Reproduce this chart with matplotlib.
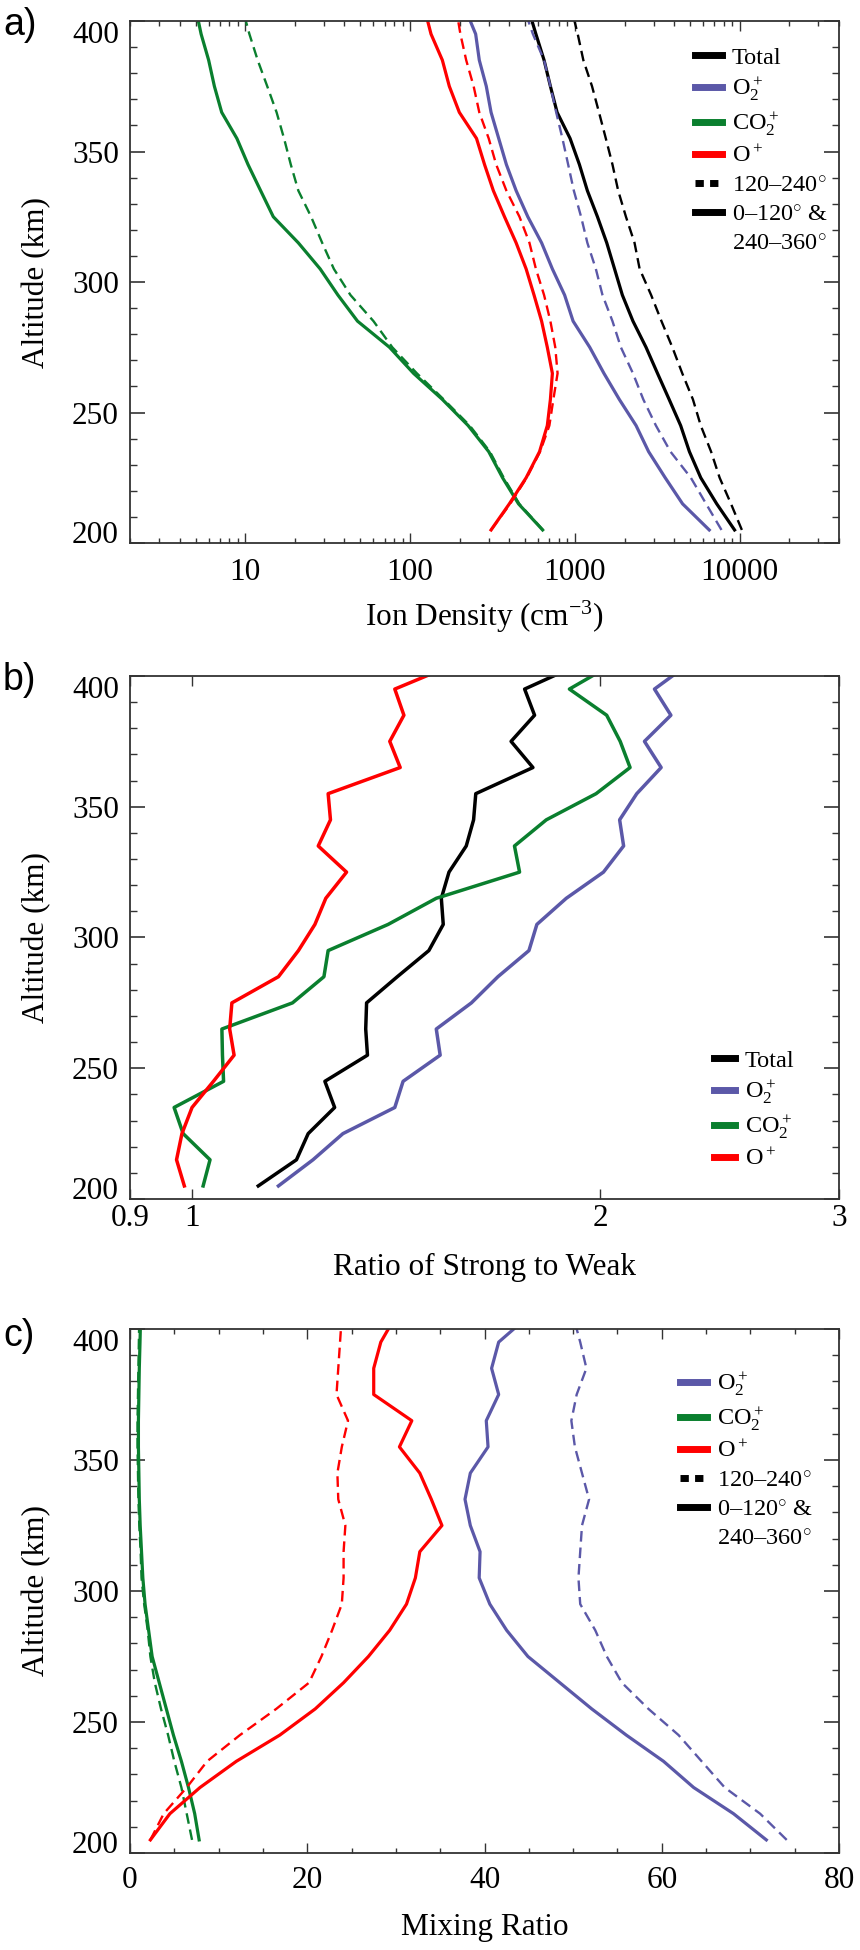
import numpy as np
import matplotlib.pyplot as plt
from matplotlib.lines import Line2D
from matplotlib.ticker import MultipleLocator, NullLocator, NullFormatter, FuncFormatter, FixedLocator, FixedFormatter

plt.rcParams['font.family'] = ['Liberation Serif', 'DejaVu Serif']
plt.rcParams['mathtext.fontset'] = 'custom'
plt.rcParams['mathtext.rm'] = 'Liberation Serif'
plt.rcParams['mathtext.it'] = 'Liberation Serif:italic'
plt.rcParams['mathtext.bf'] = 'Liberation Serif:bold'

# altitude grid (km), top point sits just above the plotted range and gets clipped
alt = np.arange(205, 406, 10)

# a) ion density (cm^-3), strong (0-120 & 240-360) and weak (120-240) sectors
tot_s = [9300, 7250, 5800, 4950, 4380, 3730, 3170, 2700, 2250, 1940, 1740,
         1560, 1370, 1190, 1065, 935, 780, 710, 650, 580, 520]
tot_w = [10300, 8850, 7550, 6700, 5800, 5200, 4480, 3900, 3350, 2900, 2470,
         2300, 2040, 1830, 1690, 1540, 1400, 1270, 1125, 1040, 950]
o2_s = [6530, 4500, 3530, 2800, 2350, 1860, 1500, 1230, 975, 866, 730,
        628, 518, 440, 384, 345, 310, 290, 263, 250, 215]
o2_w = [7750, 6250, 5050, 3800, 3100, 2600, 2250, 1900, 1690, 1470, 1340,
        1190, 1090, 985, 910, 840, 770, 710, 650, 556, 490]
co2_s = [637, 455, 364, 300, 225, 157, 105, 75, 48, 36.5, 28.5,
         21, 14.8, 12.4, 10.4, 8.9, 7.2, 6.5, 6.0, 5.4, 5.0]
co2_w = [640, 460, 370, 305, 230, 160, 110, 78, 60, 43.5, 34.5,
         29.3, 25.1, 21.0, 18.9, 17.2, 15.5, 13.6, 11.9, 10.6, 9.6]
o_s = [310, 400, 506, 610, 680, 710, 730, 680, 628, 565, 506,
       440, 374, 320, 283, 253, 199, 173, 157, 134, 122]
o_w = [310, 405, 510, 615, 700, 740, 785, 760, 710, 650, 580,
       530, 461, 384, 333, 300, 263, 243, 219, 202, 190]

# b) ratio strong / weak
r_tot = [1.119, 1.194, 1.218, 1.274, 1.253, 1.347, 1.343, 1.345, 1.417, 1.495, 1.532,
         1.527, 1.547, 1.593, 1.613, 1.619, 1.784, 1.719, 1.789, 1.759, 1.94]
r_o2 = [1.158, 1.228, 1.292, 1.411, 1.431, 1.524, 1.514, 1.607, 1.681, 1.772, 1.796,
        1.888, 2.011, 2.081, 2.067, 2.128, 2.218, 2.156, 2.255, 2.193, 2.33]
r_co2 = [1.019, 1.031, 0.985, 0.970, 1.055, 1.053, 1.052, 1.186, 1.251, 1.260, 1.395,
         1.514, 1.744, 1.729, 1.825, 1.986, 2.104, 2.069, 2.022, 1.898, 2.05]
r_o = [0.987, 0.974, 0.983, 1.0, 1.037, 1.074, 1.066, 1.070, 1.158, 1.198, 1.232,
       1.255, 1.300, 1.239, 1.265, 1.260, 1.424, 1.399, 1.433, 1.411, 1.57]

# c) mixing ratio (%)
m_o2_s = [71.8, 68.1, 63.6, 60.2, 56.0, 52.1, 48.5, 44.9, 42.5, 40.6, 39.4,
          39.5, 38.4, 37.8, 38.4, 40.4, 40.2, 41.6, 40.8, 41.6, 45.0]
m_o2_w = [74.1, 71.1, 67.1, 64.5, 61.9, 58.5, 55.5, 53.8, 52.5, 50.8, 50.6,
          50.8, 51.0, 51.8, 51.0, 50.2, 49.8, 50.4, 51.5, 50.8, 50.0]
m_co2_s = [7.8, 7.3, 6.6, 5.8, 4.9, 4.1, 3.3, 2.5, 2.1, 1.7, 1.45,
           1.3, 1.15, 1.05, 1.0, 0.95, 0.95, 1.0, 1.05, 1.13, 1.2]
m_co2_w = [7.0, 6.4, 5.8, 5.0, 4.3, 3.5, 2.8, 2.3, 2.0, 1.6, 1.3,
           1.2, 1.05, 0.95, 0.9, 0.85, 0.85, 0.9, 0.95, 1.0, 1.05]
m_o_s = [2.3, 4.5, 7.9, 12.0, 16.9, 20.9, 24.1, 26.9, 29.3, 31.2, 32.2,
         32.7, 35.2, 34.0, 32.7, 30.4, 31.8, 27.5, 27.5, 28.3, 30.0]
m_o_w = [2.3, 3.8, 6.4, 8.7, 12.4, 16.5, 20.2, 21.6, 22.8, 23.9, 24.1,
         24.1, 24.3, 23.5, 23.4, 23.9, 24.6, 23.3, 23.5, 23.7, 23.9]

BLK = 'black'
BLUE = '#5b58a8'
GREEN = '#0a7f2e'
RED = '#ff0000'
AX = '#333333'
DASH = (4.5, 2.5)
FS = 22.5
LFS = 17.5

fig = plt.figure(figsize=(8.6, 19.5), dpi=100)


def make_axes(top, bottom):
    return fig.add_axes([130 / 860, 1 - bottom / 1950, 709 / 860, (bottom - top) / 1950])


def style(ax, xpad):
    ax.set_ylim(200, 400)
    ax.yaxis.set_major_locator(FixedLocator([200, 250, 300, 350, 400]))
    ax.yaxis.set_minor_locator(MultipleLocator(10))
    ax.tick_params(axis='both', which='both', direction='in', top=True, right=True,
                   labelsize=FS, color=AX)
    ax.tick_params(axis='y', which='major', length=11, width=1.2, pad=8)
    ax.tick_params(axis='y', which='minor', length=5.3, width=1.0)
    ax.tick_params(axis='x', which='major', length=7.2, width=1.0, pad=xpad)
    ax.tick_params(axis='x', which='minor', length=3.6, width=1.0)
    for s in ax.spines.values():
        s.set_linewidth(1.3)
        s.set_color(AX)
    # end labels pulled inside the axis range
    ticks = ax.yaxis.get_major_ticks()
    ticks[0].label1.set_va('baseline')
    ticks[-1].label1.set_va('top')
    ax.set_ylabel('Altitude (km)', fontsize=FS)
    ax.yaxis.label.set_va('center')
    ax.yaxis.set_label_coords(-93 / 709, 0.5)


def xlab(ax, text, below, height):
    ax.set_xlabel(text, fontsize=FS)
    ax.xaxis.label.set_va('center')
    ax.xaxis.set_label_coords(0.5, -below / height)


def legend(ax, handles, labels, loc, anchor, hl=1.1):
    ax.legend(handles, labels, loc=loc, bbox_to_anchor=anchor, frameon=False,
              fontsize=LFS, handlelength=hl, handletextpad=0.4, labelspacing=0.3,
              borderpad=0, borderaxespad=0)


species = ['Total', r'O$_2^+$', r'CO$_2^+$', r'O$^+$']
hs = [Line2D([], [], color=c, lw=5) for c in (BLK, BLUE, GREEN, RED)]
sect_h = [Line2D([], [], color=BLK, lw=5, dashes=(1.2, 0.9)),
          Line2D([], [], color=BLK, lw=5),
          Line2D([], [], color='none', lw=5)]
sect = ['120–240$^{\\circ}$', '0–120$^{\\circ}$ &', '240–360$^{\\circ}$']

# ---- a) ----
axa = make_axes(21, 543)
for s, w, c in [(tot_s, tot_w, BLK), (o2_s, o2_w, BLUE), (co2_s, co2_w, GREEN), (o_s, o_w, RED)]:
    axa.plot(w, alt, color=c, lw=1.7, dashes=DASH)
    axa.plot(s, alt, color=c, lw=2.3)
axa.set_xscale('log')
axa.set_xlim(2, 40000)
axa.xaxis.set_major_locator(FixedLocator([10, 100, 1000, 10000]))
axa.xaxis.set_major_formatter(FuncFormatter(lambda v, p: f'{v:g}'))
axa.xaxis.set_minor_formatter(NullFormatter())
style(axa, 10.6)
xlab(axa, 'Ion Density (cm$^{-3}$)', 74, 522)
legend(axa, hs + sect_h, species + sect, 'upper left', (0.797, 0.951))
fig.text(3 / 860, 1 - 25 / 1950, 'a)', family='Liberation Sans', fontsize=27, va='center', ha='left')

# ---- b) ----
axb = make_axes(676, 1199)
for v, c in [(r_tot, BLK), (r_o2, BLUE), (r_co2, GREEN), (r_o, RED)]:
    axb.plot(v, alt, color=c, lw=2.5)
axb.set_xscale('log')
axb.set_xlim(0.9, 3)
axb.xaxis.set_major_locator(FixedLocator([0.9, 1, 2, 3]))
axb.xaxis.set_major_formatter(FixedFormatter(['0.9', '1', '2', '3']))
axb.xaxis.set_minor_locator(NullLocator())
style(axb, 3.4)
xlab(axb, 'Ratio of Strong to Weak', 68, 523)
legend(axb, hs, species, 'lower left', (0.824, 0.055), hl=0.85)
fig.text(3 / 860, 1 - 680 / 1950, 'b)', family='Liberation Sans', fontsize=27, va='center', ha='left')

# ---- c) ----
axc = make_axes(1329, 1853)
for s, w, c in [(m_o2_s, m_o2_w, BLUE), (m_co2_s, m_co2_w, GREEN), (m_o_s, m_o_w, RED)]:
    axc.plot(w, alt, color=c, lw=1.7, dashes=DASH)
    axc.plot(s, alt, color=c, lw=2.3)
axc.set_xlim(0, 80)
axc.xaxis.set_major_locator(MultipleLocator(20))
axc.xaxis.set_minor_locator(MultipleLocator(5))
style(axc, 9.1)
xlab(axc, 'Mixing Ratio', 74, 524)
legend(axc, hs[1:] + sect_h, species[1:] + sect, 'upper left', (0.776, 0.92))
fig.text(3 / 860, 1 - 1336 / 1950, 'c)', family='Liberation Sans', fontsize=27, va='center', ha='left')

fig.savefig('out.png', dpi=100)
